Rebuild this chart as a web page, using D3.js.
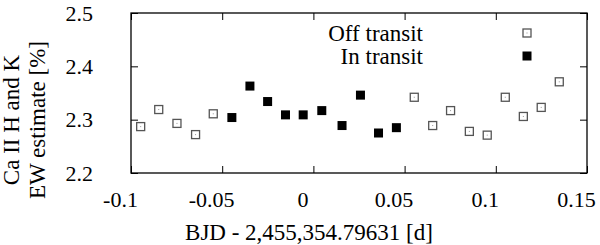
<!DOCTYPE html>
<html>
<head>
<meta charset="utf-8">
<script src="https://cdn.jsdelivr.net/npm/d3@7"></script>
<style>
  body { margin: 0; background: #fff; }
  svg { display: block; font-family: "Liberation Serif", "Times New Roman", "DejaVu Serif", serif; }
  .axis path, .axis line { stroke: #000; }
  .axis text { font-size: 22px; fill: #000; font-family: "Liberation Serif", "Times New Roman", serif; }
</style>
</head>
<body>
<script>
// observation times (BJD offset, days) and Ca II H&K EW estimate (%)
var offTime  = [-0.0947, -0.0848, -0.0748, -0.0646, -0.0549, 0.0553, 0.0654, 0.0752, 0.0855, 0.0953, 0.1052, 0.1151, 0.1249, 0.1348];
var offValue = [2.287, 2.319, 2.293, 2.272, 2.311, 2.342, 2.289, 2.317, 2.278, 2.271, 2.342, 2.306, 2.323, 2.371];
var inTime   = [-0.0447, -0.0348, -0.0251, -0.0153, -0.0056, 0.0046, 0.0157, 0.0258, 0.0357, 0.0455];
var inValue  = [2.304, 2.363, 2.334, 2.309, 2.309, 2.317, 2.289, 2.346, 2.275, 2.285];
var xTicks = [-0.1, -0.05, 0, 0.05, 0.1, 0.15];
var yTicks = [2.2, 2.3, 2.4, 2.5];

var W = 600, H = 245;
var margin = {left: 131, right: 13, top: 13, bottom: 72};
var width = W - margin.left - margin.right, height = H - margin.top - margin.bottom;

var svg = d3.select('body').append('svg').attr('width', W).attr('height', H);
var panel = svg.append('g').attr('transform', 'translate(' + margin.left + ',' + margin.top + ')');

var x = d3.scaleLinear().domain([-0.1, 0.15]).range([0, width]);
var y = d3.scaleLinear().domain([2.2, 2.5]).range([height, 0]);

var fmt = function (d) { return d === 0 ? '0' : String(d); };

var xAxis = panel.append('g').attr('class', 'axis').attr('transform', 'translate(0,' + height + ')')
	.call(d3.axisBottom(x).tickValues(xTicks).tickFormat(fmt).tickSizeInner(-7).tickSizeOuter(0).tickPadding(18));
xAxis.selectAll('text').attr('dx', -11);
panel.append('g').attr('class', 'axis')
	.call(d3.axisTop(x).tickValues(xTicks).tickFormat('').tickSizeInner(-7).tickSizeOuter(0));
panel.append('g').attr('class', 'axis')
	.call(d3.axisLeft(y).tickValues(yTicks).tickFormat(d3.format('.1f')).tickSizeInner(-7).tickSizeOuter(0).tickPadding(38));
panel.append('g').attr('class', 'axis').attr('transform', 'translate(' + width + ',0)')
	.call(d3.axisRight(y).tickValues(yTicks).tickFormat('').tickSizeInner(-7).tickSizeOuter(0));

panel.selectAll('.axis path').remove();
panel.append('rect').attr('width', width).attr('height', height)
	.style('fill', 'none').style('stroke', '#000').style('stroke-width', 1.3);

function drawOpen(g, cx, cy) {
	g.append('rect').attr('x', cx - 4).attr('y', cy - 4).attr('width', 8).attr('height', 8)
		.style('fill', '#fff').style('stroke', '#555').style('stroke-width', 1.3);
	g.append('rect').attr('x', cx - 0.5).attr('y', cy - 0.5).attr('width', 1).attr('height', 1)
		.style('fill', '#999');
}
function drawFilled(g, cx, cy) {
	g.append('rect').attr('x', cx - 4.5).attr('y', cy - 4.5).attr('width', 9).attr('height', 9)
		.style('fill', '#000');
}

var offGroup = panel.append('g').attr('class', 'off');
offTime.forEach(function (t, i) { drawOpen(offGroup, x(t), y(offValue[i])); });
var inGroup = panel.append('g').attr('class', 'in');
inTime.forEach(function (t, i) { drawFilled(inGroup, x(t), y(inValue[i])); });

// legend
svg.append('text').attr('x', 423).attr('y', 40.5).attr('text-anchor', 'end')
	.style('font-size', '23px').text('Off transit');
svg.append('text').attr('x', 423).attr('y', 63.5).attr('text-anchor', 'end')
	.style('font-size', '23px').text('In transit');
drawOpen(svg, 527, 33);
drawFilled(svg, 527, 56);

// axis titles
svg.append('text').attr('x', 309).attr('y', 240).attr('text-anchor', 'middle')
	.style('font-size', '23px').text('BJD - 2,455,354.79631 [d]');
var yt = svg.append('text').attr('transform', 'translate(19,120) rotate(-90)').attr('text-anchor', 'middle')
	.style('font-size', '23px');
yt.append('tspan').attr('x', 0).attr('y', 0).text('Ca II H and K');
yt.append('tspan').attr('x', 0).attr('y', 26).text('EW estimate [%]');
</script>
</body>
</html>
